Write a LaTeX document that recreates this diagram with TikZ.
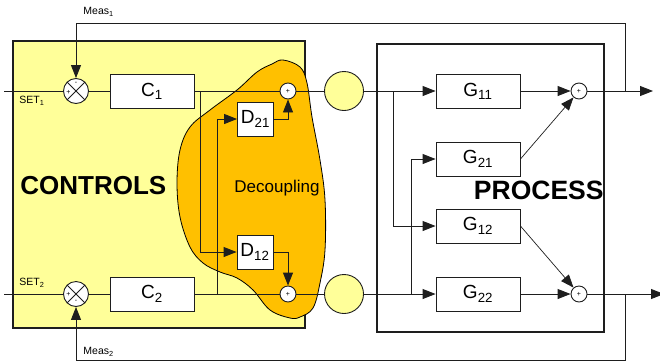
\documentclass[tikz,border=0pt]{standalone}
\usepackage{fontspec}
\setmainfont{Liberation Sans}
\usetikzlibrary{arrows.meta}
\definecolor{ctrlyellow}{RGB}{255,255,153}
\definecolor{decorange}{RGB}{255,192,0}
\definecolor{linegray}{RGB}{30,30,30}
\begin{document}
\begin{tikzpicture}[x=1pt,y=-1pt,
  line width=0.9pt, draw=linegray,
  arr/.style={-{Triangle[length=13pt,width=10pt]}},
  blk/.style={draw=linegray, fill=white, minimum width=84pt, minimum height=34pt, inner sep=0pt, font=\fontsize{19}{20}\selectfont},
  dblk/.style={blk, minimum width=36pt},
  sumc/.style={circle, draw=linegray, fill=white, minimum size=16pt, inner sep=0pt},
  cross/.style={circle, draw=linegray, fill=white, minimum size=25pt, inner sep=0pt,
    path picture={\draw[linegray, line width=0.9pt] (path picture bounding box.north west) -- (path picture bounding box.south east) (path picture bounding box.north east) -- (path picture bounding box.south west);}},
  ycirc/.style={circle, draw=linegray, fill=ctrlyellow, minimum size=39pt, inner sep=0pt},
  sign/.style={font=\fontsize{7}{7}\selectfont, inner sep=0pt},
  small/.style={font=\fontsize{10.5}{12}\selectfont, inner sep=0pt},
  big/.style={font=\fontsize{26}{28}\selectfont\bfseries, inner sep=0pt}
]
\useasboundingbox (0,0) rectangle (660,362);
% frames
\draw[fill=ctrlyellow, line width=1.2pt] (13,41) rectangle (305,328);
\draw[line width=1.2pt] (377,44) rectangle (604,332);
% decoupling blob
\draw[fill=decorange, line width=0.8pt, draw=black] plot[smooth cycle, tension=0.6] coordinates {
 (283,60) (300,67) (307,83) (312,117) (320,160) (325,200) (325,250) (320,283) (313,308) (300,317) (290,318)
 (270,310) (253,290) (237,278) (220,272) (203,263) (190,247) (180,217) (177,183) (180,150) (190,127) (210,110)
 (237,90) (257,72) (272,64)};
% labels
\node[big, anchor=west] (ctl) at (20,186) {CONTROLS};
\node[big, anchor=east, font=\fontsize{26.5}{28}\selectfont\bfseries] (proc) at (604,190) {PROCESS};
\node[font=\fontsize{17}{18}\selectfont, inner sep=0pt] (dec) at (277,188) {Decoupling};
% nodes
\node[cross] (x1) at (76,91) {};
\node[cross] (x2) at (76,294) {};
\node[sign] at (76,83.5) {-};
\node[sign] at (68.5,92) {+};
\node[sign] at (68.5,294.5) {+};
\node[sign] at (76,301.5) {-};
\node[blk] (C1) at (152,91) {C\textsubscript{1}};
\node[blk] (C2) at (152,294) {C\textsubscript{2}};
\node[dblk] (D21) at (255.5,119) {D\textsubscript{21}};
\node[dblk] (D12) at (255,252) {D\textsubscript{12}};
\node[sumc] (s1) at (288,91) {};
\node[sumc] (s2) at (288,294) {};
\node[sign] at (288,91) {+};
\node[sign] at (288,294) {+};
\node[ycirc] (y1) at (344,91) {};
\node[ycirc] (y2) at (344,294) {};
\node[blk] (G11) at (478,91) {G\textsubscript{11}};
\node[blk] (G21) at (478,159) {G\textsubscript{21}};
\node[blk] (G12) at (478,226) {G\textsubscript{12}};
\node[blk] (G22) at (478,294) {G\textsubscript{22}};
\node[sumc] (p1) at (579,91) {};
\node[sumc] (p2) at (579,294) {};
\node[sign] at (579,91) {+};
\node[sign] at (579,294) {+};
\node[small, anchor=west] (meas1) at (83,12) {Meas\textsubscript{1}};
\node[small, anchor=west] (meas2) at (83,352) {Meas\textsubscript{2}};
\node[small, anchor=west] (set1) at (19,101) {SET\textsubscript{1}};
\node[small, anchor=west] (set2) at (19,283) {SET\textsubscript{2}};
% coordinates
\coordinate (in1) at (4,91);
\coordinate (in2) at (4,294);
\coordinate (out1) at (653,91);
\coordinate (out2) at (664,294);
\coordinate (m1) at (625,91);
\coordinate (m1t) at (625,23);
\coordinate (m1l) at (76,23);
\coordinate (m2) at (625,294);
\coordinate (m2b) at (625,360);
\coordinate (m2l) at (76,360);
\coordinate (b1) at (200,91);
\coordinate (b2) at (217,294);
\coordinate (b3) at (393,91);
\coordinate (b4) at (411,294);
% connectors row 1
\draw (in1) -- (x1);
\draw (x1) -- (C1);
\draw (C1) -- (s1);
\draw (s1) -- (y1);
\draw[arr] (y1) -- (G11);
\draw[arr] (G11) -- (p1);
\draw[arr] (p1) -- (out1);
\draw[arr] (m1) -- (m1t) -- (m1l) -- (x1.north);
% connectors row 2
\draw (in2) -- (x2);
\draw (x2) -- (C2);
\draw (C2) -- (s2);
\draw (s2) -- (y2);
\draw[arr] (y2) -- (G22);
\draw[arr] (G22) -- (p2);
\draw[arr] (p2) -- (out2);
\draw[arr] (m2) -- (m2b) -- (m2l) -- (x2.south);
% decoupling
\draw[arr] (b1) |- (D12.west);
\draw[arr] (b2) |- (D21.west);
\draw[arr] (D21.east) -| (s1.south);
\draw[arr] (D12.east) -| (s2.north);
% process cross
\draw[arr] (b3) |- (G12.west);
\draw[arr] (b4) |- (G21.west);
\draw[arr, line width=0.7pt] (G21.east) -- (p1);
\draw[arr, line width=0.7pt] (G12.east) -- (p2);
\end{tikzpicture}
\end{document}
